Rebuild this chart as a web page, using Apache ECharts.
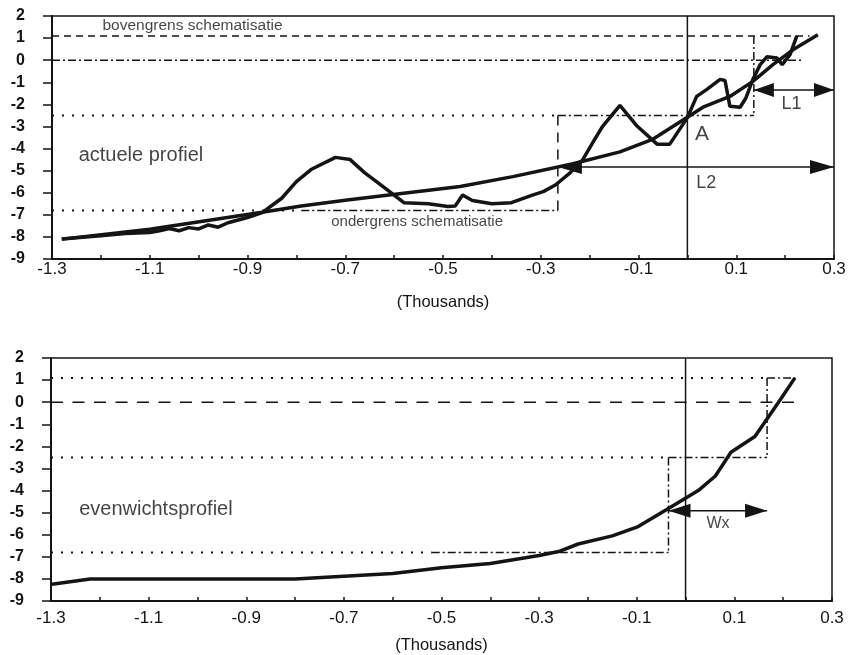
<!DOCTYPE html>
<html><head><meta charset="utf-8">
<script src="https://cdn.jsdelivr.net/npm/echarts@6/dist/echarts.min.js"></script>
<style>html,body{margin:0;padding:0;background:#fff}#c{width:854px;height:655px}</style>
</head><body><div id="c"></div>
<script>
// ---- tick labels ----
const xLabels = ['-1.3','-1.1','-0.9','-0.7','-0.5','-0.3','-0.1','0.1','0.3'];
const yLabels = ['2','1','0','-1','-2','-3','-4','-5','-6','-7','-8','-9'];
const xTitle = '(Thousands)';

// ---- top chart: actuele profiel ----
const actueelProfiel = [[-1.28,-8.1],[-1.2,-7.95],[-1.15,-7.85],[-1.1,-7.8],[-1.08,-7.72],[-1.06,-7.62],[-1.04,-7.72],[-1.02,-7.58],[-1.0,-7.64],[-0.98,-7.46],[-0.96,-7.56],[-0.94,-7.36],[-0.9,-7.12],[-0.87,-6.9],[-0.83,-6.25],[-0.8,-5.5],[-0.77,-4.95],[-0.72,-4.4],[-0.69,-4.5],[-0.66,-5.1],[-0.63,-5.6],[-0.58,-6.45],[-0.53,-6.5],[-0.49,-6.62],[-0.475,-6.6],[-0.46,-6.1],[-0.44,-6.35],[-0.4,-6.5],[-0.36,-6.45],[-0.32,-6.13],[-0.295,-5.95],[-0.27,-5.65],[-0.24,-5.1],[-0.214,-4.5],[-0.19,-3.6],[-0.173,-2.98],[-0.138,-2.05],[-0.103,-2.98],[-0.062,-3.8],[-0.036,-3.8],[0,-2.6],[0.019,-1.64],[0.04,-1.32],[0.067,-0.87],[0.077,-0.92],[0.087,-2.09],[0.108,-2.13],[0.12,-1.7],[0.134,-0.87],[0.149,-0.2],[0.163,0.16],[0.183,0.1],[0.194,-0.2],[0.21,0.25],[0.224,1.1]];
const trendProfiel = [[-1.28,-8.1],[-1.1,-7.65],[-0.87,-6.88],[-0.79,-6.6],[-0.696,-6.33],[-0.465,-5.72],[-0.357,-5.27],[-0.234,-4.69],[-0.138,-4.15],[-0.07,-3.57],[0,-2.58],[0.032,-2.13],[0.087,-1.64],[0.134,-0.96],[0.175,-0.2],[0.216,0.47],[0.267,1.15]];

// ---- bottom chart: evenwichtsprofiel ----
const evenwichtsProfiel = [[-1.298,-8.24],[-1.22,-8.0],[-1.0,-8.0],[-0.8,-8.0],[-0.6,-7.75],[-0.5,-7.5],[-0.4,-7.3],[-0.3,-6.94],[-0.26,-6.76],[-0.22,-6.42],[-0.15,-6.05],[-0.097,-5.63],[-0.036,-4.82],[0.026,-4.0],[0.061,-3.34],[0.093,-2.27],[0.142,-1.55],[0.169,-0.69],[0.194,0.11],[0.224,1.1]];

// ---- reference line at x = 0 ----
const zeroLine = [[0,-9],[0,2]];

// ---- schematisation lines, top ----
const topBoven = [[-1.3,1.1],[0.25,1.1]];
const topNul = [[-1.3,0],[0.235,0]];
const topMidDotted = [[-1.3,-2.5],[-0.265,-2.5]];
const topMidDashDot = [[-0.265,-2.5],[0.136,-2.5]];
const topRightVert = [[0.136,1.1],[0.136,-2.5]];
const topLeftVert = [[-0.265,-2.5],[-0.265,-6.8]];
const topOnderDotted = [[-1.3,-6.8],[-0.79,-6.8]];
const topOnderDashDot = [[-0.79,-6.8],[-0.265,-6.8]];
const arrowL1 = [0.136,-1.35,0.3,-1.35];
const arrowL2 = [-0.265,-4.83,0.3,-4.83];

// ---- schematisation lines, bottom ----
const botBovenDotted = [[-1.3,1.1],[0.167,1.1]];
const botBovenDashDot = [[0.167,1.1],[0.225,1.1]];
const botNul = [[-1.3,0],[0.225,0]];
const botRightVert = [[0.167,1.1],[0.167,-2.5]];
const botMidDotted = [[-1.3,-2.5],[-0.035,-2.5]];
const botMidDashDot = [[-0.035,-2.5],[0.167,-2.5]];
const botLeftVert = [[-0.035,-2.5],[-0.035,-6.8]];
const botOnderDotted = [[-1.3,-6.8],[-0.52,-6.8]];
const botOnderDashDot = [[-0.52,-6.8],[-0.035,-6.8]];
const arrowWx = [-0.035,-4.92,0.167,-4.92];

// ---- annotations ----
const topNotes = [
  {name:'bovengrens schematisatie', value:[-1.0125,1.55]},
  {name:'ondergrens schematisatie', value:[-0.553,-7.3]},
  {name:'actuele profiel', value:[-1.118,-4.33]},
  {name:'A', value:[0.03,-3.34]},
  {name:'L2', value:[0.0386,-5.57]},
  {name:'L1', value:[0.213,-1.97]}
];
const botNotes = [
  {name:'evenwichtsprofiel', value:[-1.085,-4.87]},
  {name:'Wx', value:[0.0665,-5.5]}
];

// ---------------------------------------------------------------
const INK = '#141414';
const noteSize = {'bovengrens schematisatie':15.5,'ondergrens schematisatie':15,'actuele profiel':20,'A':21,'L2':18,'L1':18,'evenwichtsprofiel':20,'Wx':16};
const DOT = [2,8], DASHDOT = [8,3,2,3], DASH_SHORT = [7,5], DASH_LONG = [12,9.5], DASH_V = [10,7];

function fmtX(v){ let s=(Math.round(v*10)/10).toFixed(1); if(s==='-0.0') s='0.0'; return s; }
function fmtY(v){ let s=String(Math.round(v)); return s==='-0'?'0':s; }

function makeX(i){
  return {type:'value', gridIndex:i, min:-1.3, max:0.3, interval:0.1,
    axisLine:{show:true,onZero:false,lineStyle:{color:INK,width:2}},
    axisTick:{show:true,inside:true,length:4,lineStyle:{color:INK,width:1.5}},
    axisLabel:{fontFamily:'Liberation Sans',fontSize:17,color:INK,margin:i===0?2:9,
      formatter:v=>{const s=fmtX(v);return xLabels.includes(s)?s:'';}},
    splitLine:{show:false},
    name:xTitle,nameLocation:'middle',nameGap:i===0?35:36,
    nameTextStyle:{fontFamily:'Liberation Sans',fontSize:16.5,color:INK}};
}
function makeY(i){
  return {type:'value', gridIndex:i, min:-9, max:2, interval:1,
    axisLine:{show:true,onZero:false,lineStyle:{color:INK,width:2}},
    axisTick:{show:true,inside:false,length:9,lineStyle:{color:INK,width:1.5}},
    axisLabel:{fontFamily:'Liberation Sans',fontSize:16,fontWeight:'bold',color:INK,margin:27,
      formatter:v=>{const s=fmtY(v);return yLabels.includes(s)?s:'';}},
    splitLine:{show:false}};
}
function ln(i,data,type,width,z){
  return {type:'line',xAxisIndex:i,yAxisIndex:i,data:data,symbol:'none',showSymbol:false,silent:true,animation:false,z:z||2,
    lineStyle:{color:INK,width:width,type:type,cap:'butt'}};
}
function arrow(i,seg,headLen){
  return {type:'custom',xAxisIndex:i,yAxisIndex:i,silent:true,animation:false,z:6,clip:false,
    data:[seg],
    encode:{x:[0,2],y:[1,3]},
    renderItem:function(params,api){
      const a=api.coord([api.value(0),api.value(1)]);
      const b=api.coord([api.value(2),api.value(3)]);
      const dx=b[0]-a[0], dy=b[1]-a[1], L=Math.hypot(dx,dy);
      const ux=dx/L, uy=dy/L, nx=-uy, ny=ux, hw=7;
      const head=(tip,dir)=>{
        const bx=tip[0]+dir*ux*headLen, by=tip[1]+dir*uy*headLen;
        return {type:'polygon',shape:{points:[[tip[0],tip[1]],[bx+nx*hw,by+ny*hw],[bx-nx*hw,by-ny*hw]]},style:{fill:INK}};
      };
      return {type:'group',children:[
        {type:'line',shape:{x1:a[0],y1:a[1],x2:b[0],y2:b[1]},style:{stroke:INK,lineWidth:1.5}},
        head(a,1), head(b,-1)
      ]};
    }};
}
function notes(i,list){
  return {type:'scatter',xAxisIndex:i,yAxisIndex:i,silent:true,animation:false,symbolSize:1,z:5,
    itemStyle:{color:'rgba(0,0,0,0)'},
    data:list.map(d=>({name:d.name,value:d.value,label:{fontSize:noteSize[d.name]}})),
    label:{show:true,position:'inside',formatter:'{b}',color:INK,fontFamily:'Liberation Sans',align:'center',verticalAlign:'middle'}};
}

const option = {
  backgroundColor:'#fff',
  animation:false,
  grid:[
    {left:52,top:16,width:782,height:243,show:true,borderColor:INK,borderWidth:1.5,backgroundColor:'transparent'},
    {left:51,top:358,width:781,height:245,show:true,borderColor:INK,borderWidth:1.5,backgroundColor:'transparent'}
  ],
  xAxis:[makeX(0),makeX(1)],
  yAxis:[makeY(0),makeY(1)],
  series:[
    ln(0,zeroLine,'solid',1.5),
    ln(0,topBoven,DASH_SHORT,1.5),
    ln(0,topNul,DASHDOT,1.5),
    ln(0,topMidDotted,DOT,2),
    ln(0,topMidDashDot,DASHDOT,1.5),
    ln(0,topRightVert,DASHDOT,1.5),
    ln(0,topLeftVert,DASH_V,1.5),
    ln(0,topOnderDotted,DOT,2),
    ln(0,topOnderDashDot,DASHDOT,1.5),
    ln(0,trendProfiel,'solid',3.5,4),
    ln(0,actueelProfiel,'solid',3.5,4),
    arrow(0,arrowL1,20),
    arrow(0,arrowL2,24),
    notes(0,topNotes),

    ln(1,zeroLine,'solid',1.5),
    ln(1,botBovenDotted,DOT,2),
    ln(1,botBovenDashDot,DASHDOT,1.5),
    ln(1,botNul,DASH_LONG,1.5),
    ln(1,botRightVert,DASHDOT,1.5),
    ln(1,botMidDotted,DOT,2),
    ln(1,botMidDashDot,DASHDOT,1.5),
    ln(1,botLeftVert,DASHDOT,1.5),
    ln(1,botOnderDotted,DOT,2),
    ln(1,botOnderDashDot,DASHDOT,1.5),
    ln(1,evenwichtsProfiel,'solid',3.5,4),
    arrow(1,arrowWx,22),
    notes(1,botNotes)
  ]
};
const chart = echarts.init(document.getElementById('c'),null,{renderer:'canvas'});
chart.setOption(option);
</script>
</body></html>
